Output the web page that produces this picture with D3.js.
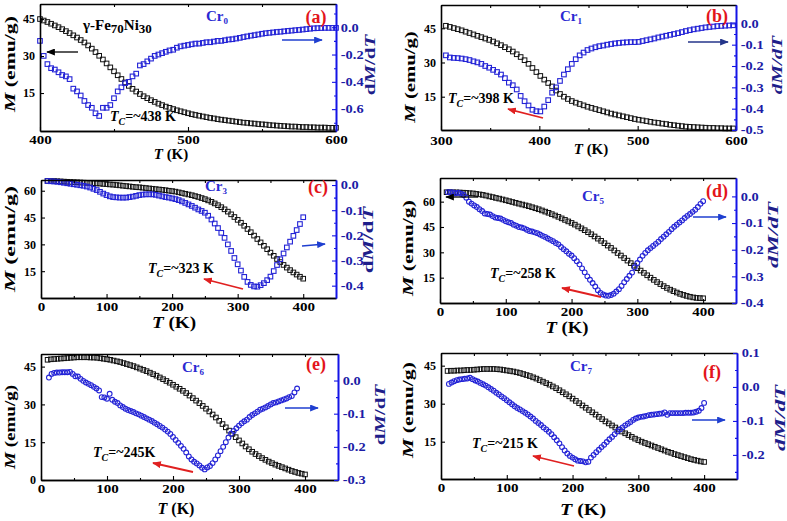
<!DOCTYPE html>
<html><head><meta charset="utf-8">
<script src="https://cdn.jsdelivr.net/npm/d3@7"></script>
<style>
body{margin:0;background:#fff}
svg{display:block}
text{font-family:"Liberation Serif","Times New Roman",serif;font-weight:bold}
</style>
</head><body>
<svg id="c" width="787" height="521"></svg>
<script>
// ---------- DATA ----------
const tempA = [400,402.5,405,407.5,410,412.5,415,417.5,420,422.5,425,427.5,430,432.5,435,437.5,440,442.5,445,447.5,450,452.5,455,457.5,460,462.5,465,467.5,470,472.5,475,477.5,480,482.5,485,487.5,490,492.5,495,497.5,500,502.5,505,507.5,510,512.5,515,517.5,520,522.5,525,527.5,530,532.5,535,537.5,540,542.5,545,547.5,550,552.5,555,557.5,560,562.5,565,567.5,570,572.5,575,577.5,580,582.5,585,587.5,590,592.5,595,597.5,600];
const magA = [45.0,44.4,43.8,43.1,42.4,41.7,40.9,40.1,39.3,38.4,37.5,36.5,35.5,34.3,33.0,31.6,30.1,28.6,27.0,25.4,23.8,22.2,20.7,19.3,17.9,16.7,15.6,14.6,13.7,12.9,12.1,11.4,10.7,10.1,9.5,9.0,8.5,8.0,7.6,7.2,6.8,6.4,6.1,5.8,5.5,5.2,4.9,4.7,4.4,4.2,4.0,3.8,3.6,3.4,3.2,3.0,2.9,2.7,2.6,2.4,2.3,2.2,2.0,1.9,1.8,1.7,1.6,1.5,1.4,1.4,1.3,1.2,1.2,1.1,1.1,1.0,1.0,1.0,0.9,0.9,0.9];
const dmdtA = [-0.10,-0.21,-0.27,-0.30,-0.31,-0.33,-0.35,-0.36,-0.38,-0.45,-0.47,-0.50,-0.54,-0.57,-0.59,-0.63,-0.65,-0.59,-0.59,-0.57,-0.52,-0.47,-0.44,-0.41,-0.40,-0.36,-0.34,-0.28,-0.27,-0.25,-0.23,-0.21,-0.20,-0.19,-0.18,-0.17,-0.165,-0.15,-0.14,-0.135,-0.13,-0.125,-0.12,-0.12,-0.115,-0.11,-0.11,-0.105,-0.10,-0.10,-0.095,-0.09,-0.088,-0.083,-0.078,-0.072,-0.067,-0.062,-0.058,-0.053,-0.048,-0.044,-0.041,-0.038,-0.035,-0.033,-0.03,-0.027,-0.025,-0.022,-0.02,-0.017,-0.014,-0.011,-0.008,-0.007,-0.006,-0.005,-0.005,-0.005,-0.005];

const tempB = [305,309,313,317,321,325,329,333,337,341,345,349,353,357,361,365,369,373,377,381,385,389,393,397,401,405,409,413,417,421,425,429,433,437,441,445,449,453,457,461,465,469,473,477,481,485,489,493,497,501,505,509,513,517,521,525,529,533,537,541,545,549,553,557,561,565,569,573,577,581,585,589,593,597];
const magB = [46.1,45.6,45.1,44.6,44.1,43.5,42.9,42.3,41.7,41.1,40.5,39.9,39.2,38.4,37.6,36.7,35.8,34.8,33.6,32.4,31.0,29.4,27.6,25.8,24.1,22.5,21.0,19.5,17.7,16.2,15.0,14.0,13.1,12.4,11.8,11.2,10.6,10.1,9.6,9.1,8.6,8.1,7.6,7.2,6.8,6.4,6.0,5.6,5.2,4.9,4.6,4.3,4.0,3.7,3.5,3.2,3.0,2.7,2.5,2.3,2.1,1.9,1.8,1.7,1.6,1.5,1.4,1.3,1.3,1.2,1.2,1.1,1.1,1.1];
const dmdtB = [-0.15,-0.16,-0.162,-0.163,-0.165,-0.168,-0.172,-0.178,-0.183,-0.19,-0.2,-0.208,-0.218,-0.228,-0.24,-0.257,-0.278,-0.29,-0.31,-0.34,-0.365,-0.385,-0.405,-0.412,-0.413,-0.39,-0.36,-0.325,-0.30,-0.27,-0.24,-0.215,-0.19,-0.168,-0.15,-0.137,-0.125,-0.118,-0.112,-0.107,-0.104,-0.1,-0.097,-0.094,-0.092,-0.09,-0.089,-0.088,-0.088,-0.087,-0.083,-0.079,-0.075,-0.071,-0.066,-0.062,-0.058,-0.054,-0.05,-0.046,-0.041,-0.036,-0.032,-0.028,-0.025,-0.022,-0.019,-0.017,-0.015,-0.013,-0.012,-0.011,-0.01,-0.009];

const temp5 = [10,15,20,25,30,35,40,45,50,55,60,65,70,75,80,85,90,95,100,105,110,115,120,125,130,135,140,145,150,155,160,165,170,175,180,185,190,195,200,205,210,215,220,225,230,235,240,245,250,255,260,265,270,275,280,285,290,295,300,305,310,315,320,325,330,335,340,345,350,355,360,365,370,375,380,385,390,395,400];
const temp4 = [12,16,20,24,28,32,36,40,44,48,52,56,60,64,68,72,76,80,84,88,92,96,100,104,108,112,116,120,124,128,132,136,140,144,148,152,156,160,164,168,172,176,180,184,188,192,196,200,204,208,212,216,220,224,228,232,236,240,244,248,252,256,260,264,268,272,276,280,284,288,292,296,300,304,308,312,316,320,324,328,332,336,340,344,348,352,356,360,364,368,372,376,380,384,388,392,396,400];
const tempE = [12,16,20,24,28,32,36,40,44,48,52,56,60,64,68,72,76,80,84,88,92,96,100,104,108,112,116,120,124,128,132,136,140,144,148,152,156,160,164,168,172,176,180,184,188,192,196,200,204,208,212,216,220,224,228,232,236,240,244,248,252,256,260,264,268,272,276,280,284,288,292,296,300,304,308,312,316,320,324,328,332,336,340,344,348,352,356,360,364,368,372,376,380,384,388];

const magC = [65.5,65.4,65.4,65.3,65.2,65.1,65.0,64.9,64.8,64.7,64.6,64.5,64.4,64.3,64.2,64.1,64.0,63.8,63.7,63.5,63.4,63.2,63.0,62.8,62.6,62.4,62.2,62.0,61.9,61.7,61.5,61.3,61.1,60.9,60.7,60.5,60.3,60.0,59.8,59.5,59.1,58.7,58.3,57.9,57.5,57.0,56.5,55.9,55.3,54.6,53.8,52.9,51.9,50.8,49.6,48.3,46.8,45.3,43.7,42.1,40.4,38.6,36.8,34.9,33.0,31.1,29.2,27.3,25.4,23.6,21.8,20.1,18.5,17.0,15.6,14.3,13.1,11.9,10.8];
const dmdtC = [0.016,0.015,0.014,0.013,0.011,0.009,0.007,0.005,0.003,0.001,-0.001,-0.003,-0.006,-0.01,-0.015,-0.02,-0.027,-0.034,-0.04,-0.045,-0.048,-0.049,-0.05,-0.05,-0.05,-0.048,-0.046,-0.043,-0.04,-0.038,-0.037,-0.037,-0.037,-0.039,-0.042,-0.045,-0.048,-0.05,-0.053,-0.056,-0.06,-0.065,-0.071,-0.077,-0.083,-0.09,-0.097,-0.103,-0.11,-0.122,-0.137,-0.153,-0.171,-0.19,-0.21,-0.236,-0.262,-0.29,-0.315,-0.34,-0.365,-0.385,-0.397,-0.403,-0.404,-0.398,-0.39,-0.378,-0.364,-0.342,-0.318,-0.295,-0.272,-0.248,-0.225,-0.202,-0.179,-0.155,-0.128];

const magD = [65.6,65.6,65.5,65.5,65.4,65.3,65.2,65.0,64.9,64.6,64.3,64.0,63.6,63.1,62.7,62.2,61.8,61.3,60.8,60.3,59.8,59.3,58.8,58.3,57.8,57.3,56.7,56.1,55.5,54.8,54.1,53.4,52.6,51.8,51.0,50.1,49.2,48.3,47.4,46.4,45.3,44.2,43.1,41.9,40.7,39.4,38.1,36.8,35.4,34.0,32.6,31.1,29.6,28.1,26.6,25.1,23.6,22.1,20.6,19.2,17.8,16.4,15.0,13.7,12.4,11.2,10.0,8.9,7.9,7.0,6.2,5.4,4.8,4.2,3.7,3.3,3.0,2.9,2.8];
const dmdtD = [0.016,0.016,0.015,0.012,0.014,0.010,0.005,-0.005,-0.02,-0.027,-0.034,-0.04,-0.048,-0.055,-0.064,-0.066,-0.068,-0.074,-0.079,-0.081,-0.083,-0.088,-0.093,-0.097,-0.1,-0.106,-0.11,-0.115,-0.117,-0.12,-0.125,-0.13,-0.132,-0.135,-0.138,-0.143,-0.148,-0.152,-0.158,-0.163,-0.168,-0.175,-0.18,-0.19,-0.198,-0.206,-0.215,-0.222,-0.232,-0.243,-0.255,-0.27,-0.285,-0.3,-0.313,-0.325,-0.338,-0.352,-0.362,-0.368,-0.372,-0.373,-0.37,-0.365,-0.357,-0.348,-0.336,-0.322,-0.31,-0.298,-0.286,-0.266,-0.25,-0.237,-0.223,-0.212,-0.202,-0.194,-0.186,-0.178,-0.17,-0.16,-0.151,-0.142,-0.133,-0.123,-0.114,-0.106,-0.098,-0.09,-0.081,-0.073,-0.066,-0.058,-0.05,-0.04,-0.028,-0.018];

const magE = [47.7,47.9,48.0,48.1,48.2,48.3,48.4,48.5,48.6,48.7,48.7,48.7,48.7,48.6,48.6,48.5,48.3,48.1,47.9,47.7,47.4,47.1,46.8,46.4,46.0,45.6,45.2,44.7,44.2,43.7,43.2,42.6,42.0,41.4,40.7,40.0,39.3,38.6,37.8,37.0,36.2,35.4,34.5,33.5,32.5,31.5,30.5,29.4,28.3,27.2,26.0,24.8,23.5,22.2,20.9,19.6,18.3,17.0,15.7,14.5,13.3,12.2,11.2,10.3,9.5,8.7,8.0,7.3,6.7,6.1,5.6,5.1,4.6,4.1,3.6,3.2,2.8,2.5,2.2];
const dmdtE = [0.009,0.02,0.023,0.024,0.024,0.025,0.025,0.025,0.026,0.02,0.013,0.012,0.005,-0.001,-0.006,-0.01,-0.014,-0.019,-0.024,-0.03,-0.05,-0.051,-0.055,-0.04,-0.058,-0.064,-0.068,-0.075,-0.08,-0.085,-0.089,-0.092,-0.095,-0.099,-0.102,-0.106,-0.11,-0.114,-0.118,-0.122,-0.127,-0.132,-0.137,-0.142,-0.148,-0.154,-0.161,-0.17,-0.179,-0.188,-0.197,-0.206,-0.217,-0.229,-0.238,-0.245,-0.25,-0.256,-0.263,-0.268,-0.262,-0.258,-0.249,-0.238,-0.226,-0.213,-0.2,-0.186,-0.172,-0.16,-0.152,-0.144,-0.136,-0.129,-0.123,-0.118,-0.11,-0.104,-0.099,-0.094,-0.088,-0.085,-0.081,-0.077,-0.072,-0.068,-0.066,-0.063,-0.06,-0.057,-0.054,-0.05,-0.047,-0.036,-0.024];

const magF = [42.9,43.0,43.0,43.1,43.1,43.2,43.3,43.3,43.4,43.5,43.6,43.7,43.7,43.7,43.7,43.6,43.5,43.3,43.1,42.9,42.7,42.4,42.1,41.7,41.3,40.9,40.4,39.9,39.3,38.7,38.1,37.5,36.8,36.1,35.3,34.5,33.7,32.9,32.0,31.1,30.2,29.3,28.4,27.5,26.6,25.7,24.8,23.9,23.0,22.2,21.4,20.6,19.8,19.0,18.3,17.6,16.9,16.2,15.6,15.0,14.5,14.0,13.5,13.0,12.5,12.0,11.5,11.0,10.6,10.1,9.7,9.3,8.9,8.5,8.1,7.8,7.5,7.2,7.0];
const dmdtF = [0.009,0.013,0.017,0.02,0.022,0.023,0.024,0.025,0.027,0.023,0.019,0.016,0.012,0.008,0.004,-0.001,-0.006,-0.011,-0.017,-0.022,-0.028,-0.033,-0.039,-0.045,-0.051,-0.057,-0.062,-0.066,-0.071,-0.076,-0.081,-0.087,-0.093,-0.1,-0.106,-0.112,-0.119,-0.125,-0.132,-0.139,-0.148,-0.157,-0.166,-0.177,-0.187,-0.196,-0.203,-0.208,-0.213,-0.217,-0.218,-0.219,-0.222,-0.22,-0.208,-0.2,-0.192,-0.185,-0.177,-0.17,-0.162,-0.154,-0.147,-0.139,-0.131,-0.125,-0.119,-0.113,-0.108,-0.103,-0.097,-0.093,-0.09,-0.088,-0.087,-0.085,-0.083,-0.082,-0.081,-0.08,-0.079,-0.078,-0.075,-0.082,-0.077,-0.077,-0.077,-0.077,-0.077,-0.077,-0.076,-0.076,-0.076,-0.075,-0.073,-0.07,-0.062,-0.047];

const panelTags = ["(a)","(b)","(c)","(d)","(e)","(f)"];
const sampleSubs = ["0","1","3","5","6","7"];
const tcTexts = ["=~438 K","=~398 K","=~323 K","=~258 K","=~245K","=~215 K"];
const xTicksA = [400,500,600], xTicksB = [300,400,500,600], xTicksC = [0,100,200,300,400];

// ---------- LAYOUT ----------
const FONT = '"Liberation Serif","Times New Roman",serif';
const BLUE = "#2323d6", AXB = "#1414e6", TBLUE = "#1c1ca6", LBLUE = "#1e1e8a", RED = "#e3151b";

const panels = [
 {box:[40,336,4,131], xd:[400,600], xt:xTicksA, xm:[450,550], xpad:4, yLd:[-0.4,51.1], yLt:[15,30,45], yRd:[-0.76,0.17], yRt:[0,-0.2,-0.4,-0.6], yRm:[0.1,-0.1,-0.3,-0.5,-0.7],
  tm:tempA, m:magA, td:tempA, d:dmdtA, shape:"sq",
  tag:[316,23], cr:[206,21], tc:[110,121], xl:[171,159,15,1], ylab:[15,64,14,1.55], yr:[375,65,14,1.5,"MT"],
  arrows:[[78,52,47,52,"k"],[282,40,322,40,"b"]]},
 {box:[441,736,5,130], xd:[300,600], xt:xTicksB, xm:[350,450,550], xpad:6, yLd:[0.4,55.2], yLt:[15,30,45], yRd:[-0.5,0.086], yRt:[0,-0.1,-0.2,-0.3,-0.4,-0.5], yRm:[-0.05,-0.15,-0.25,-0.35,-0.45],
  tm:tempB, m:magB, td:tempB, d:dmdtB, shape:"sq",
  tag:[717,22], cr:[560,21], tc:[448,103], xl:[591,154,15,1], ylab:[415,77,14,1.48], yr:[782,65,14,1.5,"all"],
  arrows:[[688,42,728,42,"n"],[543,118,508,109,"r"]]},
 {box:[41,336,180,298], xd:[0,450], xt:xTicksC, xm:[50,150,250,350], xpad:4, yLd:[0,66], yLt:[15,30,45,60], yRd:[-0.449,0.02], yRt:[0,-0.1,-0.2,-0.3,-0.4], yRm:[-0.05,-0.15,-0.25,-0.35],
  tm:temp5, m:magC, td:temp5, d:dmdtC, shape:"sq",
  tag:[318,193], cr:[205,191], tc:[148,273], xl:[174,328,16,1.2], ylab:[15,239,15,1.6], yr:[373,240,14,1.65,"MT"],
  arrows:[[302,246,325,244,"b"],[243,289,204,279,"r"]]},
 {box:[440,736,178,303], xd:[0,450], xt:xTicksC, xm:[50,150,250,350], xpad:4, yLd:[0,74], yLt:[15,30,45,60], yRd:[-0.4,0.069], yRt:[0,-0.1,-0.2,-0.3,-0.4], yRm:[-0.05,-0.15,-0.25,-0.35],
  tm:temp5, m:magD, td:temp4, d:dmdtD, shape:"ci",
  tag:[717,197], cr:[582,201], tc:[490,278], xl:[567,333,16,1.17], ylab:[413,248,14,1.55], yr:[778,235,14,1.7,"all"],
  arrows:[[478,197,446,197,"k"],[693,217,726,217,"b"],[601,297,562,288,"r"]]},
 {box:[41,338,354,480], xd:[0,450], xt:xTicksC, xm:[50,150,250,350], xpad:4, yLd:[0,50], yLt:[0,15,30,45], yRd:[-0.3,0.08], yRt:[0,-0.1,-0.2,-0.3], yRm:[-0.05,-0.15,-0.25],
  tm:temp5, m:magE, td:tempE, d:dmdtE, shape:"ci",
  tag:[316,370], cr:[182,372], tc:[93,457], xl:[176,514,16,1], ylab:[15,427,14,1.36], yr:[385,415,14,1.5,"MT"],
  arrows:[[285,408,318,408,"b"],[193,472,153,463,"r"]]},
 {box:[441,737,353,479], xd:[0,450], xt:xTicksC, xm:[50,150,250,350], xpad:4, yLd:[0.27,50], yLt:[15,30,45], yRd:[-0.271,0.1], yRt:[0.1,0,-0.1,-0.2], yRm:[0.05,-0.05,-0.15,-0.25],
  tm:temp5, m:magF, td:temp4, d:dmdtF, shape:"ci",
  tag:[712,378], cr:[570,371], tc:[472,448], xl:[583,515,16,1.25], ylab:[413,410,14,1.55], yr:[785,418,14,1.7,"all"],
  arrows:[[692,420,725,420,"b"],[574,466,533,456,"r"]]}
];

const svg = d3.select("#c");
const defs = svg.append("defs");
const arrowColors = {k:"#000", b:"#1f3fd0", n:"#24358a", r:"#e02020"};
Object.entries(arrowColors).forEach(([k,c])=>{
  defs.append("marker").attr("id","ah"+k).attr("viewBox","0 0 10 8").attr("refX",9).attr("refY",4)
    .attr("markerWidth",9).attr("markerHeight",7).attr("markerUnits","userSpaceOnUse").attr("orient","auto")
    .append("path").attr("d","M0,0L10,4L0,8z").attr("fill",c);
});

function label(g, x, y, parts, o){
  const t = g.append("text")
    .attr("transform", `translate(${x},${y}) rotate(${o.rot||0}) scale(${o.sx||1},1)`)
    .attr("text-anchor", o.anchor||"start")
    .style("font-size", o.size+"px").attr("fill", o.color||"#000");
  parts.forEach(p=>{
    const ts = t.append("tspan").text(p.t);
    if(p.i) ts.style("font-style","italic");
    if(p.n) ts.style("font-weight","normal");
    if(p.size) ts.style("font-size", p.size+"px");
    if(p.dy) ts.attr("dy", p.dy);
  });
  return t;
}

function styleAxis(sel, color, tcolor, size, sx){
  sel.attr("font-family",null).attr("font-size",null);
  sel.select(".domain").attr("stroke",color).attr("stroke-width",1.6);
  sel.selectAll(".tick line").attr("stroke",color).attr("stroke-width",1.1);
  sel.selectAll(".tick text").attr("fill",tcolor).style("font-size",size+"px")
    .style("font-family",FONT).style("font-weight","bold").attr("transform",`scale(${sx},1)`);
}

panels.forEach((p,i)=>{
  const [x0,x1,y0,y1] = p.box;
  const g = svg.append("g");
  const x = d3.scaleLinear().domain(p.xd).range([x0,x1]);
  const yL = d3.scaleLinear().domain(p.yLd).range([y1,y0]);
  const yR = d3.scaleLinear().domain(p.yRd).range([y1,y0]);

  const s = 4.6;
  g.append("g").selectAll("rect").data(d3.zip(p.tm,p.m)).join("rect")
    .attr("x",d=>x(d[0])-s/2).attr("y",d=>yL(d[1])-s/2).attr("width",s).attr("height",s)
    .attr("fill","none").attr("stroke","#111").attr("stroke-width",1);
  const gd = g.append("g");
  if(p.shape==="sq"){
    gd.selectAll("rect").data(d3.zip(p.td,p.d)).join("rect")
      .attr("x",d=>x(d[0])-s/2).attr("y",d=>yR(d[1])-s/2).attr("width",s).attr("height",s)
      .attr("fill","none").attr("stroke",BLUE).attr("stroke-width",1.1);
  } else {
    gd.selectAll("circle").data(d3.zip(p.td,p.d)).join("circle")
      .attr("cx",d=>x(d[0])).attr("cy",d=>yR(d[1])).attr("r",2.4)
      .attr("fill","none").attr("stroke",BLUE).attr("stroke-width",1.1);
  }

  const fmtR = d=>d.toFixed(1);
  styleAxis(g.append("g").attr("transform",`translate(0,${y1})`)
    .call(d3.axisBottom(x).tickValues(p.xt).tickSizeInner(-4).tickSizeOuter(0).tickPadding(p.xpad).tickFormat(d3.format("d"))), "#000","#000",12,1.25);
  styleAxis(g.append("g").attr("transform",`translate(0,${y1})`)
    .call(d3.axisBottom(x).tickValues(p.xm).tickSizeInner(-2).tickSizeOuter(0).tickFormat("")), "#000","#000",12,1);
  styleAxis(g.append("g").attr("transform",`translate(0,${y0})`)
    .call(d3.axisTop(x).tickValues(p.xt.concat(p.xm)).tickSizeInner(-3).tickSizeOuter(0).tickFormat("")), "#000","#000",12,1);
  styleAxis(g.append("g").attr("transform",`translate(${x0},0)`)
    .call(d3.axisLeft(yL).tickValues(p.yLt).tickSizeInner(-4).tickSizeOuter(0).tickPadding(5).tickFormat(d3.format("d"))), "#000","#000",12,1);
  styleAxis(g.append("g").attr("transform",`translate(${x1},0)`)
    .call(d3.axisRight(yR).tickValues(p.yRm).tickSizeInner(-2).tickSizeOuter(0).tickFormat("")), AXB,TBLUE,12,1);
  styleAxis(g.append("g").attr("transform",`translate(${x1},0)`)
    .call(d3.axisRight(yR).tickValues(p.yRt).tickSizeInner(-4).tickSizeOuter(0).tickPadding(4).tickFormat(fmtR)), AXB,TBLUE,12,1.2);

  label(g, p.xl[0], p.xl[1], [{t:"T",i:1},{t:" (K)"}], {size:p.xl[2], sx:p.xl[3], anchor:"middle"});
  label(g, p.ylab[0], p.ylab[1], [{t:"M",i:1},{t:" (emu/g)"}], {size:p.ylab[2], sx:p.ylab[3], anchor:"middle", rot:-90});
  const allI = p.yr[4]==="all";
  label(g, p.yr[0], p.yr[1], [{t:"d",i:allI},{t:"M",i:1},{t:"/d",i:allI},{t:"T",i:1}], {size:p.yr[2], sx:p.yr[3], anchor:"middle", rot:-90, color:LBLUE});

  label(g, p.tag[0], p.tag[1], [{t:panelTags[i]}], {size:18, anchor:"middle", color:RED});
  label(g, p.cr[0], p.cr[1], [{t:"Cr"},{t:sampleSubs[i], size:9, dy:3}], {size:15, color:"#2a2ad2"});
  label(g, p.tc[0], p.tc[1], [{t:"T",i:1},{t:"C",i:1,size:10,dy:4},{t:tcTexts[i],dy:-4}], {size:14});
  if(i===0){
    label(g, 83, 30, [{t:"γ-Fe"},{t:"70",size:13,dy:3},{t:"Ni",dy:-3},{t:"30",size:13,dy:3}], {size:15});
  }
  p.arrows.forEach(a=>{
    g.append("line").attr("x1",a[0]).attr("y1",a[1]).attr("x2",a[2]).attr("y2",a[3])
      .attr("stroke",arrowColors[a[4]]).attr("stroke-width",a[4]==="r"?1.8:1.3).attr("marker-end",`url(#ah${a[4]})`);
  });
});
</script>
</body></html>
